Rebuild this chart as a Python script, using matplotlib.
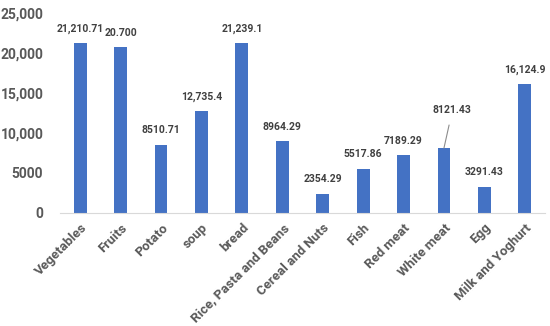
import matplotlib

matplotlib.use("Agg")
import matplotlib.pyplot as plt

categories = ["Vegetables", "Fruits", "Potato", "soup", "bread", "Rice, Pasta and Beans",
              "Cereal and Nuts", "Fish", "Red meat", "White meat", "Egg", "Milk and Yoghurt"]
values = [21210.71, 20700, 8510.71, 12735.4, 21239.1, 8964.29,
          2354.29, 5517.86, 7189.29, 8121.43, 3291.43, 16124.9]
value_labels = ["21,210.71", "20.700", "8510.71", "12,735.4", "21,239.1", "8964.29",
                "2354.29", "5517.86", "7189.29", "8121.43", "3291.43", "16,124.9"]
yticks = [0, 5000, 10000, 15000, 20000, 25000]
ytick_labels = ["0", "5000", "10,000", "15,000", "20,000", "25,000"]

plt.rcParams["font.family"] = ["Roboto", "DejaVu Sans"]
text_col = "#404040"

fig = plt.figure(figsize=(5.5, 3.26), dpi=100)
ax = fig.add_axes([0.109, 0.347, 0.882, 0.613])
x = range(len(categories))
ax.bar(x, values, width=0.32, color="#4472C4")

for i, (v, lab) in enumerate(zip(values, value_labels)):
    if categories[i] == "White meat":
        # label pulled up with a leader line, as in the original
        ax.annotate(lab, xy=(i, v), xytext=(6, 27), textcoords="offset points",
                    ha="center", va="center", fontsize=7.5, fontweight="bold", color=text_col,
                    arrowprops=dict(arrowstyle="-", color="#8c8c8c", lw=0.8, shrinkA=5, shrinkB=0))
    else:
        ax.annotate(lab, xy=(i, v), xytext=(0, 10.5), textcoords="offset points",
                    ha="center", va="center", fontsize=7.5, fontweight="bold", color=text_col)

ax.set_xlim(-0.5, 11.5)
ax.set_ylim(0, 25000)
ax.set_yticks(yticks)
ax.set_yticklabels(ytick_labels, fontsize=10, fontweight="bold", color="#595959")
ax.set_xticks(list(x))
ax.set_xticklabels(categories, rotation=45, ha="right", rotation_mode="anchor",
                   fontsize=9.5, fontweight="bold", color="#595959")
ax.tick_params(axis="both", length=0)
ax.tick_params(axis="y", pad=12)
ax.tick_params(axis="x", pad=6)
for s in ["top", "right", "left"]:
    ax.spines[s].set_visible(False)
ax.spines["bottom"].set_color("#d9d9d9")

fig.savefig("out.png", dpi=100)
